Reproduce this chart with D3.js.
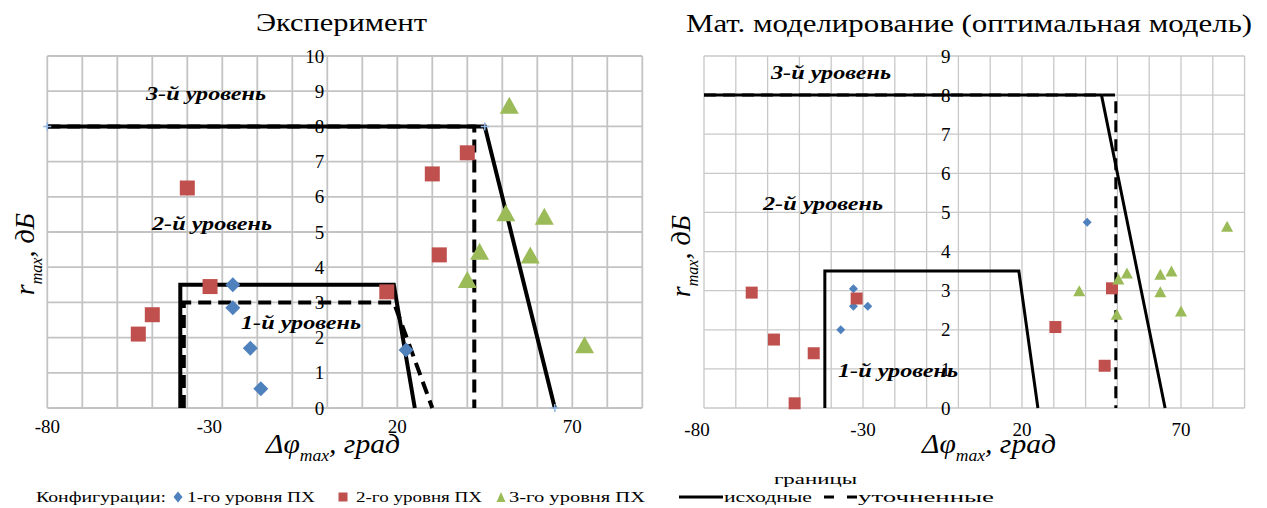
<!DOCTYPE html>
<html>
<head>
<meta charset="utf-8">
<script src="https://cdn.jsdelivr.net/npm/d3@7"></script>
<style>
  body { margin: 0; background: #fff; }
  svg { display: block; }
  text { font-family: "Liberation Serif", "Times New Roman", serif; fill: #000; }
</style>
</head>
<body>
<div class="chart"></div>
<script>
// ---- data ----
const xTickValues = [-80, -30, 20, 70];
const yTicksExp = [0, 1, 2, 3, 4, 5, 6, 7, 8, 9, 10];
const yTicksSim = [0, 1, 2, 3, 4, 5, 6, 7, 8, 9];

// Эксперимент: [Δφmax, rmax]
const expLevel1 = [[-27, 3.5], [-27, 2.85], [-22, 1.7], [-19, 0.55], [22.5, 1.65]];
const expLevel2 = [[-40, 6.25], [-33.5, 3.45], [-50, 2.65], [-54, 2.1], [17, 3.3], [32, 4.35], [30, 6.65], [40, 7.25]];
const expLevel3 = [[52, 8.6], [51, 5.55], [62, 5.45], [43.5, 4.45], [58, 4.35], [40, 3.65], [73.5, 1.8]];

// Мат. моделирование
const simLevel1 = [[40.5, 4.75], [-33, 3.05], [-33, 2.6], [-28.5, 2.6], [-37, 2.0]];
const simLevel2 = [[-65, 2.95], [-58, 1.75], [-45.5, 1.4], [-51.5, 0.12], [-32, 2.8], [30.5, 2.07], [48.3, 3.06], [46, 1.08]];
const simLevel3 = [[38, 3.0], [50.3, 3.3], [53, 3.45], [49.8, 2.4], [63.5, 3.42], [67, 3.5], [63.5, 2.97], [70, 2.48], [84.5, 4.65]];

// границы
const solidUpper = [[-80, 8], [45, 8], [65, 0]];
const solidLower = [[-42, 0], [-42, 3.5], [19, 3.5], [25, 0]];
const expDashUpper = [[-80, 8], [42, 8], [42, 0]];
const expDashLower = [[-41, 0], [-41, 3], [19, 3], [30, 0]];
const simDashUpper = [[-80, 8], [49.5, 8], [49.5, 0]];

const colors = { l1: '#4f81bd', l2: '#c0504d', l3: '#9bbb59' };
const serif = '"Liberation Serif", "Times New Roman", serif';

const width = 1267, height = 508;
const svg = d3.select('.chart').append('svg')
  .attr('width', width)
  .attr('height', height)
  .attr('font-family', serif);

function addText(g, x, y, str, o) {
  const t = g.append('text')
    .attr('x', x).attr('y', y)
    .attr('font-size', o.size)
    .attr('text-anchor', o.anchor || 'start')
    .text(str);
  if (o.italic) t.attr('font-style', 'italic');
  if (o.bold) t.attr('font-weight', 'bold');
  if (o.len) t.attr('textLength', o.len).attr('lengthAdjust', 'spacingAndGlyphs');
  return t;
}

// marker paths centred on 0,0
function diamond(w, h) { return `M0,${-h}L${w},0L0,${h}L${-w},0Z`; }
function square(s) { return `M${-s},${-s}H${s}V${s}H${-s}Z`; }
function triangle(w, h) { return `M0,${-h}L${w},${h}L${-w},${h}Z`; }

function drawPanel(p) {
  const g = svg.append('g');
  const x = d3.scaleLinear().domain([-80, 90]).range(p.xRange);
  const y = d3.scaleLinear().domain([0, p.yMax]).range(p.yRange);

  // grid
  const gridX = d3.range(-80, 91, 10);
  const gridY = d3.range(0, p.yMax + 1, 1);
  g.selectAll('.gx').data(gridX).enter().append('line')
    .attr('x1', d => x(d)).attr('x2', d => x(d))
    .attr('y1', y(0)).attr('y2', y(p.yMax))
    .attr('stroke', p.gridColor).attr('stroke-width', p.gridWidth);
  g.selectAll('.gy').data(gridY).enter().append('line')
    .attr('x1', x(-80)).attr('x2', x(90))
    .attr('y1', d => y(d)).attr('y2', d => y(d))
    .attr('stroke', p.gridColor).attr('stroke-width', p.gridWidth);

  // tick labels
  g.selectAll('.ty').data(p.yTicks).enter().append('text')
    .attr('x', x(0) - p.yLabelGap)
    .attr('y', d => y(d))
    .attr('dy', '0.35em')
    .attr('text-anchor', 'end')
    .attr('font-size', 19)
    .text(d => d);
  g.selectAll('.tx').data(xTickValues).enter().append('text')
    .attr('x', d => x(d) + (p.xLabelShift[d] || 0))
    .attr('y', p.xLabelY)
    .attr('text-anchor', 'middle')
    .attr('font-size', 19)
    .text(d => d);

  // boundaries
  const line = d3.line().x(d => x(d[0])).y(d => y(d[1]));
  p.solid.forEach(pts => {
    g.append('path').attr('d', line(pts)).attr('fill', 'none')
      .attr('stroke', '#000').attr('stroke-width', p.solidWidth)
      .attr('stroke-linejoin', 'miter');
  });
  p.dashed.forEach(pts => {
    g.append('path').attr('d', line(pts)).attr('fill', 'none')
      .attr('stroke', '#000').attr('stroke-width', p.dashWidth)
      .attr('stroke-dasharray', p.dashArray);
  });

  // small end markers on upper boundary (left chart only)
  if (p.endMarks) {
    g.selectAll('.em').data(p.endMarks).enter().append('path')
      .attr('transform', d => `translate(${x(d[0])},${y(d[1])})`)
      .attr('d', 'M-4,0H4M0,-4V4')
      .attr('stroke', '#8eb4e3').attr('stroke-width', 1.5);
  }

  // level labels
  p.levelLabels.forEach(l => {
    addText(g, l.x, l.y, l.text, { size: 19, italic: true, bold: true, len: 120 });
  });

  // points
  const m = p.marker;
  g.selectAll('.p1').data(p.l1).enter().append('path')
    .attr('transform', d => `translate(${x(d[0])},${y(d[1])})`)
    .attr('d', diamond(m.d, m.d)).attr('fill', colors.l1);
  g.selectAll('.p2').data(p.l2).enter().append('path')
    .attr('transform', d => `translate(${x(d[0])},${y(d[1])})`)
    .attr('d', square(m.s)).attr('fill', colors.l2);
  g.selectAll('.p3').data(p.l3).enter().append('path')
    .attr('transform', d => `translate(${x(d[0])},${y(d[1])})`)
    .attr('d', triangle(m.tw, m.th)).attr('fill', colors.l3);

  // titles
  addText(g, p.title.x, p.title.y, p.title.text, { size: 26, len: p.title.len });

  const xt = g.append('text')
    .attr('x', p.xTitleX).attr('y', 453)
    .attr('font-size', 27).attr('font-style', 'italic')
    .attr('textLength', 134).attr('lengthAdjust', 'spacingAndGlyphs');
  xt.append('tspan').text('Δφ');
  xt.append('tspan').attr('font-size', 16).attr('dy', 8).text('max');
  xt.append('tspan').attr('dy', -8).text(', град');

  const yt = g.append('text')
    .attr('transform', `translate(${p.yTitleX},${p.yTitleY}) rotate(-90)`)
    .attr('text-anchor', 'middle')
    .attr('font-size', 28).attr('font-style', 'italic');
  yt.append('tspan').text('r');
  yt.append('tspan').attr('font-size', 16).attr('dy', 8).text('max');
  yt.append('tspan').attr('dy', -8).text(', дБ');
}

drawPanel({
  xRange: [47.3, 642.3], yRange: [408, 56], yMax: 10, yTicks: yTicksExp,
  gridColor: '#c3c3c3', gridWidth: 1.8, yLabelGap: 3, xLabelY: 433,
  xLabelShift: { '-30': -13 },
  solid: [solidUpper, solidLower], dashed: [expDashUpper, expDashLower],
  solidWidth: 4, dashWidth: 4, dashArray: '13,7',
  endMarks: [solidUpper[0], solidUpper[1], solidUpper[2]],
  levelLabels: [
    { text: '3-й уровень', x: 146, y: 100 },
    { text: '2-й уровень', x: 152, y: 230 },
    { text: '1-й уровень', x: 241, y: 329 }
  ],
  l1: expLevel1, l2: expLevel2, l3: expLevel3,
  marker: { d: 7.5, s: 7.5, tw: 9.5, th: 8.5 },
  title: { text: 'Эксперимент', x: 256, y: 31, len: 171 },
  xTitleX: 266, yTitleX: 34, yTitleY: 254
});

drawPanel({
  xRange: [704, 1244.6], yRange: [408, 56], yMax: 9, yTicks: yTicksSim,
  gridColor: '#c8c8c8', gridWidth: 1.3, yLabelGap: 8, xLabelY: 436,
  xLabelShift: { '-80': -7 },
  solid: [solidUpper, solidLower], dashed: [simDashUpper],
  solidWidth: 3, dashWidth: 3, dashArray: '12,7',
  levelLabels: [
    { text: '3-й уровень', x: 771, y: 79 },
    { text: '2-й уровень', x: 763, y: 210 },
    { text: '1-й уровень', x: 838, y: 377 }
  ],
  l1: simLevel1, l2: simLevel2, l3: simLevel3,
  marker: { d: 4.5, s: 6, tw: 6, th: 5.5 },
  title: { text: 'Мат. моделирование (оптимальная модель)', x: 686, y: 32, len: 566 },
  xTitleX: 922, yTitleX: 690, yTitleY: 256
});

// ---- legend ----
const lg = svg.append('g');
const ly = 502;
addText(lg, 36, ly, 'Конфигурации:', { size: 15, len: 130 });
lg.append('path').attr('transform', `translate(178,${ly - 5})`).attr('d', diamond(4.5, 5.5)).attr('fill', colors.l1);
addText(lg, 187, ly, '1-го уровня ПХ', { size: 15, len: 128 });
lg.append('path').attr('transform', `translate(343,${ly - 5})`).attr('d', square(4.5)).attr('fill', colors.l2);
addText(lg, 356, ly, '2-го уровня ПХ', { size: 15, len: 126 });
lg.append('path').attr('transform', `translate(501,${ly - 5})`).attr('d', triangle(4.5, 5)).attr('fill', colors.l3);
addText(lg, 509, ly, '3-го уровня ПХ', { size: 15, len: 136 });
lg.append('line').attr('x1', 679).attr('x2', 723).attr('y1', ly - 5).attr('y2', ly - 5)
  .attr('stroke', '#000').attr('stroke-width', 3);
addText(lg, 724, ly, 'исходные', { size: 15, len: 88 });
addText(lg, 774, 484, 'границы', { size: 15, len: 83 });
lg.append('line').attr('x1', 824).attr('x2', 857).attr('y1', ly - 5).attr('y2', ly - 5)
  .attr('stroke', '#000').attr('stroke-width', 3).attr('stroke-dasharray', '10,13');
addText(lg, 858, ly, 'уточненные', { size: 15, len: 136 });
</script>
</body>
</html>
